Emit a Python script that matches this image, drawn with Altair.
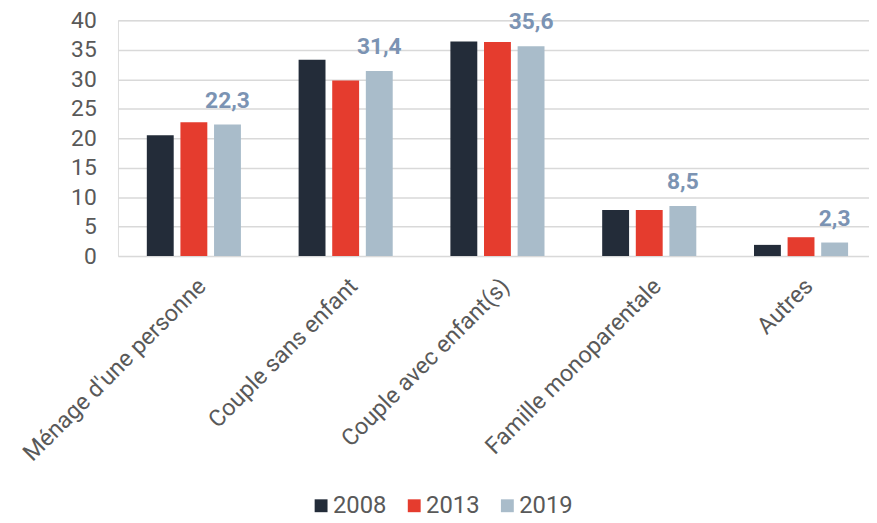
import altair as alt
import pandas as pd

categories = ["Ménage d'une personne", "Couple sans enfant", "Couple avec enfant(s)",
              "Famille monoparentale", "Autres"]
years = ["2008", "2013", "2019"]
v2008 = [20.5, 33.3, 36.4, 7.8, 1.9]
v2013 = [22.7, 29.8, 36.3, 7.8, 3.2]
v2019 = [22.3, 31.4, 35.6, 8.5, 2.3]
colors = ["#232c39", "#e53c2e", "#a9bcca"]
label_year = "2019"
y_ticks = [0, 5, 10, 15, 20, 25, 30, 35, 40]

rows = []
for yr, vals in zip(years, [v2008, v2013, v2019]):
    for c, v in zip(categories, vals):
        rows.append({"cat": c, "year": yr, "value": v})
df = pd.DataFrame(rows)

FONT = "Roboto"
GRAY = "#595959"

x = alt.X("cat:N", sort=categories,
          scale=alt.Scale(paddingInner=0.38, paddingOuter=0.19, range=[0, 766]),
          axis=alt.Axis(title=None, labelAngle=-45, labelFontSize=23.5, labelColor=GRAY,
                        labelFont=FONT, ticks=False, tickSize=0, domain=False,
                        labelPadding=18, labelLimit=400, grid=False, labelOverlap=False))
xoff = alt.XOffset("year:N", sort=years, scale=alt.Scale(paddingInner=0.2))
y = alt.Y("value:Q", scale=alt.Scale(domain=[0, 40], nice=False),
          axis=alt.Axis(title=None, values=y_ticks, tickCount=20, labelFontSize=23,
                        labelColor=GRAY, labelFont=FONT, ticks=False, tickSize=0,
                        domain=False, labelPadding=22, gridColor="#d9d9d9", gridWidth=1.5,
                        labelOverlap=False))

bars = alt.Chart(df).mark_bar().encode(
    x=x, xOffset=xoff, y=y,
    color=alt.Color("year:N", sort=years,
                    scale=alt.Scale(domain=years, range=colors),
                    legend=alt.Legend(title=None, orient="none", legendX=193, legendY=478,
                                      direction="horizontal", symbolType="square",
                                      symbolSize=169, symbolStrokeWidth=0,
                                      labelFontSize=24, labelColor=GRAY, labelFont=FONT,
                                      columnPadding=16, labelOffset=0)),
)

labels = alt.Chart(df).transform_filter(
    alt.datum.year == label_year
).transform_calculate(
    lab="replace(format(datum.value, '.1f'), '.', ',')"
).mark_text(baseline="bottom", dy=-12, fontSize=23, fontWeight="bold",
            color="#7b93b3", font=FONT).encode(
    x=x, xOffset=xoff, y=y, text="lab:N",
)

chart = alt.layer(bars, labels).properties(
    width=758, height=238,
    autosize=alt.AutoSizeParams(type="none"),
    padding={"left": 111, "top": 10, "right": 0, "bottom": 265},
).configure_view(stroke=None).configure(font=FONT)

chart.save("out.html", embed_options={"renderer": "svg", "actions": False})
